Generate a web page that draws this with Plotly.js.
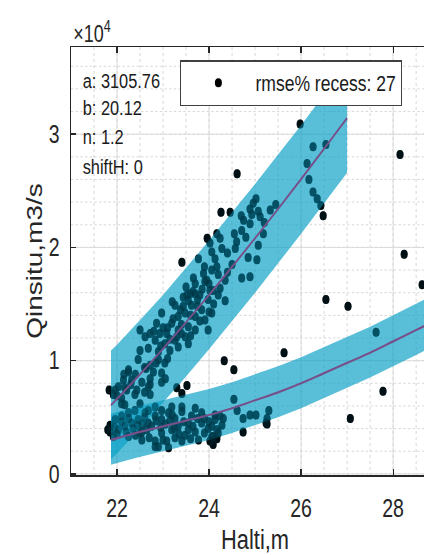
<!DOCTYPE html>
<html>
<head>
<meta charset="utf-8">
<script src="https://cdn.plot.ly/plotly-3.0.1.min.js"></script>
<style>
  html, body { margin: 0; padding: 0; background: #fff; }
  #wrap { width: 424px; height: 555px; overflow: hidden; position: relative; }
  #plot { width: 593px; height: 555px; transform: scaleX(0.78); transform-origin: 0 0; }
</style>
</head>
<body>
<div id="wrap"><div id="plot"></div></div>
<script>
// Observed points: stage H (m) and discharge Q (m3/s)
const obsH = [
  25.02,24.96,24.89,24.93,25.07,25.33,24.75,24.71,24.89,25.11,25.18,25.07,24.57,24.17,24.24,24.02,24.06,24.13,24.28,23.77,
  24.17,24.06,23.88,23.66,23.95,24.20,24.35,24.71,24.89,25.04,24.24,24.02,23.59,23.44,23.80,
  23.70,23.91,24.09,23.98,23.70,23.52,23.44,23.26,23.62,23.84,24.06,23.91,23.70,23.48,23.33,23.19,22.97,22.86,22.93,23.08,
  23.33,23.55,23.70,23.48,23.26,23.04,22.83,22.72,22.50,22.61,22.50,22.68,22.90,23.15,23.33,23.55,23.98,22.90,22.72,23.04,
  22.46,22.25,22.79,22.97,22.72,22.54,22.32,22.14,22.03,21.96,22.21,22.43,22.68,22.97,22.72,22.39,22.10,22.17,22.50,22.83,21.92,
  22.25,22.63,23.05,22.72,22.60,22.17,23.70,22.10,
  23.10,23.22,23.38,23.55,23.60,23.75,23.85,24.00,23.40,23.15,23.00,22.80,22.95,23.40,23.60,23.80,24.10,24.20,24.40,24.50,
  24.60,24.80,24.40,23.90,23.50,23.20,22.60,22.40,22.85,23.10,22.30,22.00,22.15,23.65,24.35,23.30,24.00,23.75,24.55,24.70,
  25.20,25.45,24.85,
  21.85,21.96,22.10,22.25,22.03,22.17,22.32,22.46,22.39,22.61,22.68,22.54,22.83,22.97,23.12,23.26,23.41,23.33,23.19,22.97,
  22.83,22.90,23.08,23.26,23.48,23.70,23.55,23.84,23.98,24.13,24.28,23.77,24.06,24.20,23.62,23.41,23.12,22.83,21.85,21.92,
  22.25,22.54,22.68,22.97,23.19,23.41,23.84,
  22.00,22.10,22.20,22.35,22.45,22.55,22.65,22.75,22.85,22.95,23.05,23.15,23.25,23.35,23.45,23.55,23.65,23.75,23.90,24.00,
  22.40,22.70,23.00,23.60,23.90,22.25,22.60,23.20,21.95,22.50,
  24.13,24.24,24.31,24.06,24.17,24.09,
  24.54,24.61,24.74,24.89,25.02,25.30,25.26,25.24,27.63,
  25.98,26.26,26.54,26.13,26.17,26.26,26.35,26.43,
  24.61,24.26,24.46,23.96,23.41,26.48,28.15,28.24,28.63,26.54,27.02,27.78,27.07,24.33,24.54,25.63,24.74,25.26,24.09,24.17,
  23.30,23.52,23.41,21.83,21.80,24.02
];
const obsQ = [
  24300,23900,23400,22900,23200,23300,22400,21500,22100,22700,21200,20200,19900,21200,20800,20400,19600,19000,19900,19000,
  18300,18000,17700,17300,17100,17600,17100,17300,17400,18900,16400,16200,15900,15600,15800,
  16800,17000,16200,15400,15900,15800,14800,14900,14900,14500,14200,13600,13900,14200,13900,13300,14200,13300,12400,12400,
  12700,13000,12700,12100,11800,11500,11800,12400,12700,12100,10900,11100,10800,10900,11200,11500,12700,10100,9600,9800,
  10100,9200,9000,8900,8400,8100,8300,8300,7700,7400,7400,7400,7700,8100,7000,7000,6700,6100,6200,5900,7000,
  9000,9300,8400,7900,7200,7600,5800,6200,
  12900,13700,14500,15300,14000,14800,16300,16800,13200,11900,12900,12600,11300,12400,12200,13500,15000,15800,17800,18500,
  20500,20900,19500,18300,16500,15200,9400,8800,9800,10200,7900,6900,8800,16100,15300,12100,14300,15400,21200,22800,
  22200,23800,19100,
  4300,4800,5100,5400,3900,4200,4500,4800,5600,5400,4500,3700,5100,4800,5400,4900,5500,4200,3900,3600,
  2900,2400,2900,3200,3400,3700,4500,4500,4000,4800,4300,3000,3300,3600,5100,2900,2300,2400,3700,3300,
  3300,3000,5600,5600,5900,5900,5400,
  3500,4600,3700,4000,4300,4400,3900,4200,4700,4100,4400,4700,4000,3500,4600,3900,4200,4900,3600,4600,
  3400,3200,3000,3100,4900,4900,5000,5200,4100,3600,
  5200,5100,4900,4200,3900,3300,
  6600,5600,4900,5200,5200,5600,4900,4500,12500,
  30900,28900,29100,27400,26000,24900,24300,23700,
  26500,23100,23100,20800,18700,22800,28200,19400,16700,15400,14800,7300,4900,10000,9200,10700,3700,4400,2600,3100,
  7600,7800,7100,7400,3900,2900
];

// Upper rating curve and its band
const upH   = [21.87, 22.0, 22.5, 23.0, 23.5, 24.0, 24.5, 25.0, 25.5, 26.0, 26.5, 27.0];
const upQ   = [6080, 6630, 8790, 11050, 13390, 15800, 18280, 20810, 23390, 26030, 28710, 31430];
const upHi  = [10900, 11400, 13600, 15800, 18200, 20600, 23100, 25600, 28200, 30800, 33500, 36200];
const upLo  = [1300, 1800, 4000, 6300, 8600, 11000, 13500, 16000, 18600, 21200, 23900, 26600];

// Lower (recession) curve and its band
const loH   = [21.87, 22.4, 23.0, 23.5, 24.0, 24.5, 25.0, 25.5, 26.0, 26.5, 27.0, 27.5, 28.0, 28.5, 29.0, 29.5];
const loQ   = [3000, 3600, 4200, 4700, 5200, 5800, 6500, 7200, 8000, 8900, 9800, 10700, 11700, 12700, 13700, 14800];
const loHi  = [5300, 5900, 6500, 7000, 7500, 8100, 8800, 9500, 10300, 11200, 12100, 13000, 14000, 15000, 16000, 17100];
const loLo  = [800, 1400, 2000, 2500, 3000, 3600, 4300, 5000, 5800, 6700, 7600, 8500, 9500, 10500, 11500, 12600];

const yTickVals = [0, 10000, 20000, 30000];
const yTickText = ['0', '1', '2', '3'];
const xTickVals = [22, 24, 26, 28];
const paramLines = ['a: 3105.76', 'b: 20.12', 'n: 1.2', 'shiftH: 0'];
const legendName = 'rmse% recess: 27';

const FONT = 'Liberation Sans, Arial, Helvetica, sans-serif';
const bandColor = 'rgba(10,160,198,0.68)';
const curveColor = '#77508a';

function band(xs, hi, lo) {
  return {
    x: xs.concat(xs.slice().reverse()),
    y: hi.concat(lo.slice().reverse()),
    type: 'scatter', mode: 'lines', fill: 'toself',
    fillcolor: bandColor, line: {width: 0, color: bandColor},
    showlegend: false, hoverinfo: 'skip'
  };
}

const traces = [
  {x: obsH, y: obsQ, type: 'scatter', mode: 'markers', name: legendName,
   marker: {color: '#000000', size: 9}, showlegend: true},
  band(loH, loHi, loLo),
  band(upH, upHi, upLo),
  // same points, faint dark tint on top of the translucent bands
  {x: obsH, y: obsQ, type: 'scatter', mode: 'markers', showlegend: false, hoverinfo: 'skip',
   marker: {color: 'rgba(0,40,52,0.4)', size: 9}},
  {x: upH, y: upQ, type: 'scatter', mode: 'lines', line: {color: curveColor, width: 2.2, shape: 'spline'}, showlegend: false},
  {x: loH, y: loQ, type: 'scatter', mode: 'lines', line: {color: curveColor, width: 2.2, shape: 'spline'}, showlegend: false}
];

const paramY = [0.9227, 0.8595, 0.7916, 0.7213];
const annotations = paramLines.map((t, i) => ({
  text: t, xref: 'paper', yref: 'paper', x: 0.027, y: paramY[i],
  xanchor: 'left', yanchor: 'middle', showarrow: false,
  font: {family: FONT, size: 21, color: '#1a1a1a'}
}));
annotations.push({
  text: '×10<sup>4</sup>', xref: 'paper', yref: 'paper', x: 0.002, y: 0.995,
  xanchor: 'left', yanchor: 'bottom', showarrow: false,
  font: {family: FONT, size: 23, color: '#262626'}
});

const layout = {
  width: 593, height: 555,
  margin: {l: 91, r: 30, t: 47, b: 80},
  paper_bgcolor: '#ffffff', plot_bgcolor: '#ffffff',
  font: {family: FONT, color: '#262626'},
  showlegend: true,
  legend: {
    x: 0.2966, y: 0.9696, xanchor: 'left', yanchor: 'top',
    bgcolor: '#ffffff', bordercolor: '#404040', borderwidth: 1.5,
    font: {family: FONT, size: 22.5, color: '#1a1a1a'},
    itemwidth: 85
  },
  xaxis: {
    range: [21, 29], tickmode: 'array', tickvals: xTickVals,
    ticks: 'inside', ticklen: 6, tickwidth: 1.5, tickcolor: '#262626',
    showline: true, linecolor: '#262626', linewidth: 1.5, mirror: 'ticks',
    showgrid: true, gridcolor: '#d9d9d9', gridwidth: 1, zeroline: false,
    minor: {tickmode: 'linear', tick0: 21, dtick: 0.5, showgrid: true, gridcolor: '#d2d2d2', griddash: 'dot', gridwidth: 1},
    tickfont: {family: FONT, size: 25, color: '#262626'},
    ticklabelstandoff: 11,
    title: {text: 'Halti,m', font: {family: FONT, size: 28, color: '#262626'}, standoff: 12}
  },
  yaxis: {
    range: [-100, 37700], tickmode: 'array', tickvals: yTickVals, ticktext: yTickText,
    ticks: 'inside', ticklen: 6, tickwidth: 1.5, tickcolor: '#262626',
    showline: true, linecolor: '#262626', linewidth: 1.5, mirror: 'ticks',
    showgrid: true, gridcolor: '#d9d9d9', gridwidth: 1, zeroline: false,
    minor: {tickmode: 'linear', tick0: 0, dtick: 2000, showgrid: true, gridcolor: '#d2d2d2', griddash: 'dot', gridwidth: 1},
    tickfont: {family: FONT, size: 25, color: '#262626'},
    ticklabelstandoff: 8,
    title: {text: 'Qinsitu,m3/s', font: {family: FONT, size: 28, color: '#262626'}, standoff: 0}
  },
  annotations: annotations
};

Plotly.newPlot('plot', traces, layout, {displayModeBar: false, staticPlot: true});
</script>
</body>
</html>
